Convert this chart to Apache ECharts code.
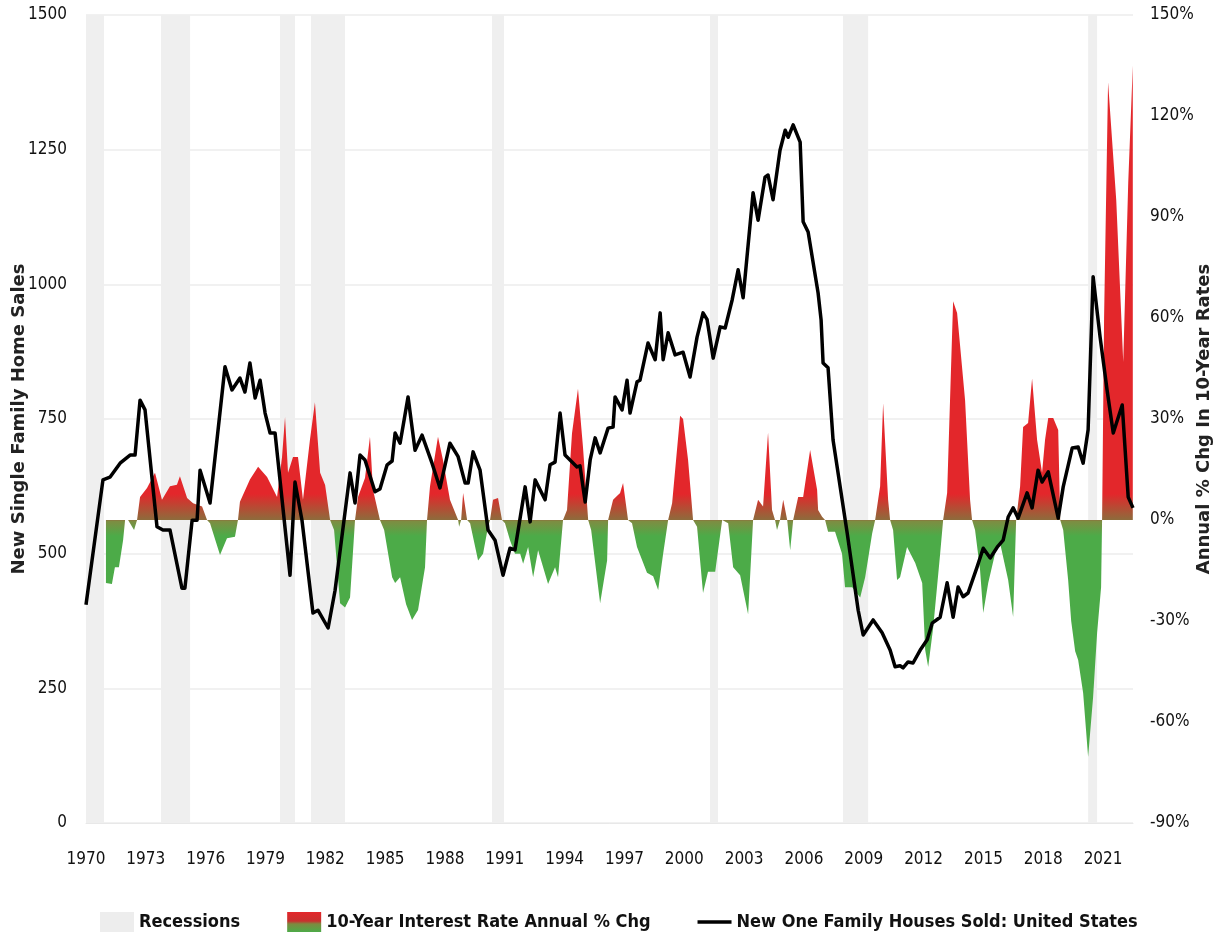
<!DOCTYPE html>
<html>
<head>
<meta charset="utf-8">
<title>New Home Sales vs 10-Year Rates</title>
<script src="https://cdn.jsdelivr.net/npm/echarts@6/dist/echarts.min.js"></script>
<style>
html, body { margin: 0; padding: 0; background: #fff; }
#chart { width: 1222px; height: 943px; }
</style>
</head>
<body>
<div id="chart"></div>
<script>
// New one family houses sold (thousands, SAAR)
var salesYears = [1970.00,1970.85,1971.20,1971.71,1972.21,1972.46,1972.71,1972.96,1973.56,1973.86,
	1974.21,1974.81,1974.96,1975.32,1975.57,1975.72,1976.22,1976.97,1977.32,1977.72,
	1977.97,1978.22,1978.48,1978.73,1978.98,1979.23,1979.48,1980.23,1980.48,1980.83,
	1981.38,1981.63,1982.14,1982.49,1983.24,1983.49,1983.74,1983.99,1984.49,1984.74,
	1985.10,1985.35,1985.50,1985.75,1986.15,1986.50,1986.85,1987.35,1987.75,1988.25,
	1988.66,1989.01,1989.16,1989.41,1989.76,1990.16,1990.51,1990.91,1991.26,1991.51,
	1992.02,1992.27,1992.52,1993.02,1993.27,1993.52,1993.77,1994.02,1994.62,1994.77,
	1995.03,1995.28,1995.53,1995.78,1996.18,1996.43,1996.53,1996.88,1997.13,1997.28,
	1997.63,1997.78,1998.18,1998.54,1998.79,1998.94,1999.19,1999.54,1999.94,2000.29,
	2000.64,2000.94,2001.14,2001.45,2001.80,2002.05,2002.40,2002.70,2002.95,2003.45,
	2003.70,2004.05,2004.20,2004.45,2004.80,2005.06,2005.21,2005.46,2005.81,2005.96,
	2006.21,2006.71,2006.86,2006.96,2007.21,2007.46,2008.17,2008.72,2008.97,2009.47,
	2009.92,2010.32,2010.57,2010.82,2010.97,2011.22,2011.47,2011.83,2012.18,2012.43,
	2012.83,2013.18,2013.48,2013.73,2013.98,2014.23,2014.68,2014.99,2015.34,2015.69,
	2015.99,2016.24,2016.49,2016.74,2017.19,2017.44,2017.74,2017.94,2018.25,2018.75,
	2019.00,2019.45,2019.75,2020.00,2020.25,2020.50,2020.85,2021.20,2021.51,2021.96,
	2022.26,2022.50];
var salesValues = [405,637,642,668,683,683,785,767,550,544,
	544,436,436,562,562,655,594,847,804,826,
	800,854,789,822,761,724,724,460,633,562,
	390,395,362,432,650,594,683,674,615,620,
	665,672,724,705,791,692,720,668,622,705,
	680,631,631,689,655,544,525,460,510,507,
	624,559,637,600,665,670,761,683,661,663,
	596,674,715,687,733,735,791,767,822,761,
	819,822,891,860,947,860,910,869,874,828,
	902,947,935,863,921,919,971,1027,975,1170,
	1119,1199,1203,1157,1249,1286,1273,1296,1264,1116,
	1097,984,934,854,845,711,538,395,349,377,
	353,321,290,292,288,299,297,321,340,371,
	382,446,382,438,420,427,475,510,492,512,
	525,568,585,566,613,585,655,633,652,566,
	624,696,698,668,730,1014,902,804,724,776,
	605,585];

// 10-year rate, annual % change
var rateYears = [1971.00,1971.30,1971.45,1971.65,1971.86,1971.96,1972.11,1972.41,1972.56,1972.71,
	1973.06,1973.46,1973.81,1974.21,1974.56,1974.71,1975.07,1975.37,1975.82,1976.07,
	1976.22,1976.72,1977.07,1977.47,1977.62,1977.72,1978.22,1978.63,1979.08,1979.58,
	1979.83,1979.98,1980.13,1980.38,1980.63,1980.88,1981.23,1981.48,1981.74,1981.99,
	1982.24,1982.44,1982.74,1982.99,1983.24,1983.49,1983.64,1983.99,1984.24,1984.39,
	1984.74,1984.95,1985.35,1985.50,1985.75,1986.05,1986.35,1986.65,1987.00,1987.10,
	1987.25,1987.65,1987.90,1988.25,1988.66,1988.71,1988.81,1988.91,1989.11,1989.26,
	1989.66,1989.91,1990.16,1990.26,1990.41,1990.66,1990.86,1991.01,1991.26,1991.51,
	1991.77,1991.92,1992.17,1992.42,1992.67,1993.17,1993.52,1993.67,1993.92,1994.12,
	1994.37,1994.67,1994.92,1995.18,1995.33,1995.78,1996.13,1996.18,1996.43,1996.78,
	1996.93,1997.18,1997.38,1997.63,1998.13,1998.44,1998.69,1998.94,1999.19,1999.39,
	1999.79,1999.94,2000.19,2000.44,2000.64,2000.94,2001.19,2001.55,2001.90,2002.20,
	2002.45,2002.80,2003.20,2003.45,2003.70,2003.95,2004.20,2004.40,2004.55,2004.65,
	2004.80,2004.96,2005.16,2005.31,2005.46,2005.71,2005.96,2006.31,2006.66,2006.71,
	2006.91,2007.06,2007.21,2007.56,2007.91,2008.06,2008.42,2008.82,2009.07,2009.42,
	2009.57,2009.82,2009.97,2010.22,2010.32,2010.47,2010.67,2010.82,2011.17,2011.58,
	2011.93,2012.08,2012.23,2012.48,2012.83,2012.98,2013.18,2013.48,2013.68,2014.08,
	2014.33,2014.43,2014.58,2014.83,2014.99,2015.24,2015.59,2015.84,2016.24,2016.49,
	2016.64,2016.84,2016.99,2017.24,2017.44,2017.69,2017.94,2018.09,2018.25,2018.50,
	2018.75,2018.85,2019.00,2019.25,2019.40,2019.60,2019.75,2020.00,2020.25,2020.50,
	2020.70,2020.90,2020.95,2021.05,2021.25,2021.66,2022.01,2022.26,2022.49];
var rateValues = [-18.7,-19,-14,-14,-6,0,0,-3,0,6.8,
	9.5,14,6,10,10.5,13,6.5,5,4,0,
	-1,-10.4,-5.4,-5,0,5.4,12,15.8,12.8,6.8,
	18.7,30.6,14,18.7,18.7,6,23.8,35,14,10.4,
	0,-3,-24.7,-26,-23,0,6.8,12.5,24.7,9,
	0,-3,-17,-18.7,-17,-25,-29.7,-26.7,-14,0,
	10,24.7,17.8,6,0,-2,0,8,0,-1,
	-12,-10,-2,0,6,6.5,0,-1,-6,-10,
	-10,-13,-8,-17,-9,-19,-14,-17,0,3,
	25.8,39,21.7,0,-3,-24.7,-12,0,6,8,
	11,0,-1,-8,-15.7,-16.7,-20.8,-10,0,5,
	31,30,17.8,0,-2,-21.7,-15.4,-15.4,0,-1,
	-14,-16.4,-28,0,6,4,26,3,0,-3,
	0,6,0,-9,0,6.8,6.8,20.8,9,3,
	1,0,-3.5,-3.5,-10,-20,-20,-23,-17,-4,
	0,10,34.7,6,0,-3,-17.8,-17,-8,-12.8,
	-18.7,-38.6,-43.7,-32,-10,0,8,65,61.5,35.6,
	6,0,-3,-14.8,-27.6,-18.7,-9.8,-7,-17.8,-28.8,
	0,10,27.6,28.8,42,23.8,14,23.8,30.3,30.3,
	26.7,0,-3,-18,-30,-39,-41.6,-51.4,-70.4,-52.6,
	-33.6,-20,0,60,130,95,47,100,135];

// recession periods
var recessionStart = [1970.00, 1973.76, 1979.73, 1981.28, 1990.36, 2001.29, 2007.96, 2020.25];
var recessionEnd = [1970.90, 1975.22, 1980.48, 1982.99, 1990.96, 2001.69, 2009.22, 2020.70];

var nameSales = 'New One Family Houses Sold: United States';
var nameRate = '10-Year Interest Rate Annual % Chg';
var nameRec = 'Recessions';

var red = '#e3272b';
var green = '#4cab48';
var tickFont = "'Liberation Sans Narrow', 'DejaVu Sans Condensed', 'Liberation Sans', sans-serif";

var salesData = [];
for (var i = 0; i < salesYears.length; i++) {
	salesData.push([salesYears[i], salesValues[i]]);
}
var rateData = [];
for (var i = 0; i < rateYears.length; i++) {
	rateData.push([rateYears[i], rateValues[i]]);
}
var recAreas = [];
for (var i = 0; i < recessionStart.length; i++) {
	recAreas.push([{ xAxis: recessionStart[i] }, { xAxis: recessionEnd[i] }]);
}

var chart = echarts.init(document.getElementById('chart'));

var axisName = {
	fontFamily: 'DejaVu Sans',
	fontWeight: 'bold',
	fontSize: 18,
	color: '#222'
};

var option = {
	animation: false,
	backgroundColor: '#fff',
	grid: {
		left: 86,
		right: 89,
		top: 15,
		bottom: 120,
		containLabel: false,
		outerBoundsMode: 'none'
	},
	legend: {
		left: 100,
		top: 912,
		width: 1110,
		padding: 0,
		itemWidth: 34,
		itemHeight: 20,
		itemGap: 47,
		textStyle: {
			fontFamily: tickFont,
			fontWeight: 'bold',
			fontSize: 18,
			color: '#111'
		},
		data: [ {
			name: nameRec,
			icon: 'rect',
			itemStyle: { color: '#ededed' }
		}, {
			name: nameRate,
			icon: 'rect',
			itemStyle: {
				color: new echarts.graphic.LinearGradient(0, 0, 0, 1, [
					{ offset: 0, color: red },
					{ offset: 0.45, color: '#c8302e' },
					{ offset: 0.6, color: '#7d8a40' },
					{ offset: 1, color: green }
				])
			}
		}, {
			name: nameSales,
			icon: 'path://M0,0L38,0L38,4L0,4Z',
			itemStyle: { color: '#000' }
		} ]
	},
	xAxis: {
		type: 'value',
		min: 1970,
		max: 2022.5,
		interval: 3,
		axisLine: { show: true, lineStyle: { color: '#e8e8e8', width: 1 } },
		axisTick: { show: false },
		splitLine: { show: false },
		axisLabel: {
			margin: 28,
			showMaxLabel: false,
			fontFamily: tickFont,
			fontSize: 17,
			color: '#111',
			formatter: function(v) {
				return String(Math.round(v));
			}
		}
	},
	yAxis: [ {
		type: 'value',
		min: 0,
		max: 1500,
		interval: 250,
		name: 'New Single Family Home Sales',
		nameLocation: 'middle',
		nameGap: 58,
		nameRotate: 90,
		nameMoveOverlap: false,
		nameTextStyle: axisName,
		axisLine: { show: false },
		axisTick: { show: false },
		axisLabel: {
			margin: 19,
			fontFamily: tickFont,
			fontSize: 17,
			color: '#111',
			formatter: function(v) {
				return String(v);
			}
		},
		splitLine: { show: true, lineStyle: { color: '#ececec', width: 1.5 } }
	}, {
		type: 'value',
		min: -90,
		max: 150,
		interval: 30,
		name: 'Annual % Chg In 10-Year Rates',
		nameLocation: 'middle',
		nameGap: 62,
		nameRotate: 90,
		nameMoveOverlap: false,
		nameTextStyle: axisName,
		axisLine: { show: false },
		axisTick: { show: false },
		axisLabel: {
			margin: 17,
			fontFamily: tickFont,
			fontSize: 17,
			color: '#111',
			formatter: '{value}%'
		},
		splitLine: { show: false }
	} ],
	series: [ {
		name: nameRec,
		type: 'line',
		data: [],
		z: 1,
		itemStyle: { color: '#ededed' },
		markArea: {
			silent: true,
			itemStyle: { color: '#efefef' },
			data: recAreas
		}
	}, {
		name: nameRate,
		type: 'line',
		yAxisIndex: 1,
		data: rateData,
		z: 2,
		symbol: 'none',
		itemStyle: { color: red },
		lineStyle: { width: 0, color: red },
		areaStyle: { color: red, opacity: 1 }
	}, {
		name: nameSales,
		type: 'line',
		data: salesData,
		z: 3,
		symbol: 'none',
		itemStyle: { color: '#000' },
		lineStyle: { color: '#000', width: 3.5, join: 'round' }
	} ]
};
chart.setOption(option);

// red above zero, green below, both fading to olive at the zero line
var zeroY = chart.convertToPixel({ yAxisIndex: 1 }, 0);
var h = chart.getHeight();
var fill = new echarts.graphic.LinearGradient(0, 0, 0, h, [
	{ offset: 0, color: red },
	{ offset: (zeroY - 26) / h, color: red },
	{ offset: zeroY / h, color: '#8d6c3c' },
	{ offset: (zeroY + 1) / h, color: '#7f8c42' },
	{ offset: (zeroY + 16) / h, color: green },
	{ offset: 1, color: green }
], true);
chart.setOption({
	series: [ {}, { areaStyle: { color: fill, opacity: 1 } }, {} ]
});
window.onresize = chart.resize;
</script>
</body>
</html>
